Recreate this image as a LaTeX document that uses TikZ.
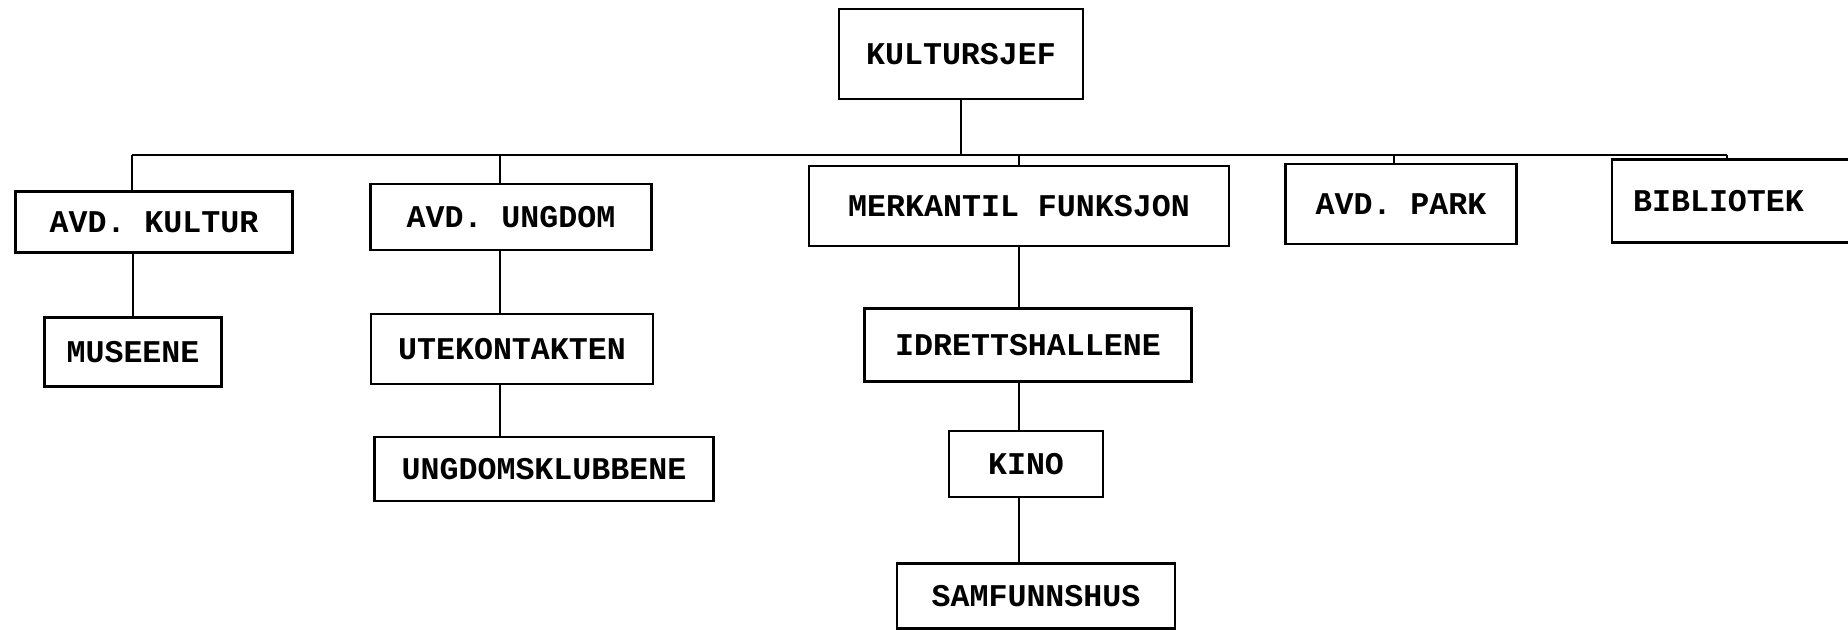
\documentclass[tikz,border=0pt]{standalone}
\usepackage{fontspec}
\newfontfamily\orgfont{Liberation Mono}
\usetikzlibrary{positioning}

\begin{document}
\begin{tikzpicture}[x=0.2mm, y=-0.2mm,
        unit/.style 2 args={draw, line width=1.3pt, inner sep=0pt, minimum width=#1*0.2mm, minimum height=#2*0.2mm, font=\orgfont\bfseries\fontsize{18}{20}\selectfont},
        link/.style={line width=0.9pt}]
        \useasboundingbox (0,0) rectangle (1848,630);
        \clip (0,0) rectangle (1848,630);
        % top
        \node[unit={244}{90}] (chef) at (961,54) {KULTURSJEF};
        % first level
        \node[unit={277}{61}] (kultur) at (154,222) {AVD. KULTUR};
        \node[unit={281}{66}] (ungdom) at (511,217) {AVD. UNGDOM};
        \node[unit={420}{80}] (merk) at (1019,206) {MERKANTIL FUNKSJON};
        \node[unit={231}{80}] (park) at (1401,204) {AVD. PARK};
        \node[unit={258}{83}] (bibl) at (1741,201) {BIBLIOTEK\hspace*{9mm}};
        % second level and below
        \node[unit={177}{69}] (museene) at (133,352) {MUSEENE};
        \node[unit={282}{70}] (ute) at (512,349) {UTEKONTAKTEN};
        \node[unit={339}{64}] (klubb) at (544,469) {UNGDOMSKLUBBENE};
        \node[unit={327}{73}] (idr) at (1028,345) {IDRETTSHALLENE};
        \node[unit={154}{66}] (kino) at (1026,464) {KINO};
        \node[unit={278}{65}] (samf) at (1036,596) {SAMFUNNSHUS};
        % bus
        \coordinate (busL) at (132,155);
        \coordinate (busR) at (1727,155);
        \coordinate (dropU) at (500,155);
        \coordinate (dropP) at (1394,155);
        \draw[link] (chef.south) -- (chef.south |- busL);
        \draw[link] (busL) -- (busR);
        \draw[link] (busL) -- (busL |- kultur.north);
        \draw[link] (dropU) -- (dropU |- ungdom.north);
        \draw[link] (merk.north |- busL) -- (merk.north);
        \draw[link] (dropP) -- (dropP |- park.north);
        \draw[link] (busR) -- (busR |- bibl.north);
        % chains
        \draw[link] (museene.north |- kultur.south) -- (museene.north);
        \draw[link] (dropU |- ungdom.south) -- (dropU |- ute.north);
        \draw[link] (dropU |- ute.south) -- (dropU |- klubb.north);
        \draw[link] (merk.south) -- (merk.south |- idr.north);
        \draw[link] (merk.south |- idr.south) -- (merk.south |- kino.north);
        \draw[link] (merk.south |- kino.south) -- (merk.south |- samf.north);
\end{tikzpicture}
\end{document}
